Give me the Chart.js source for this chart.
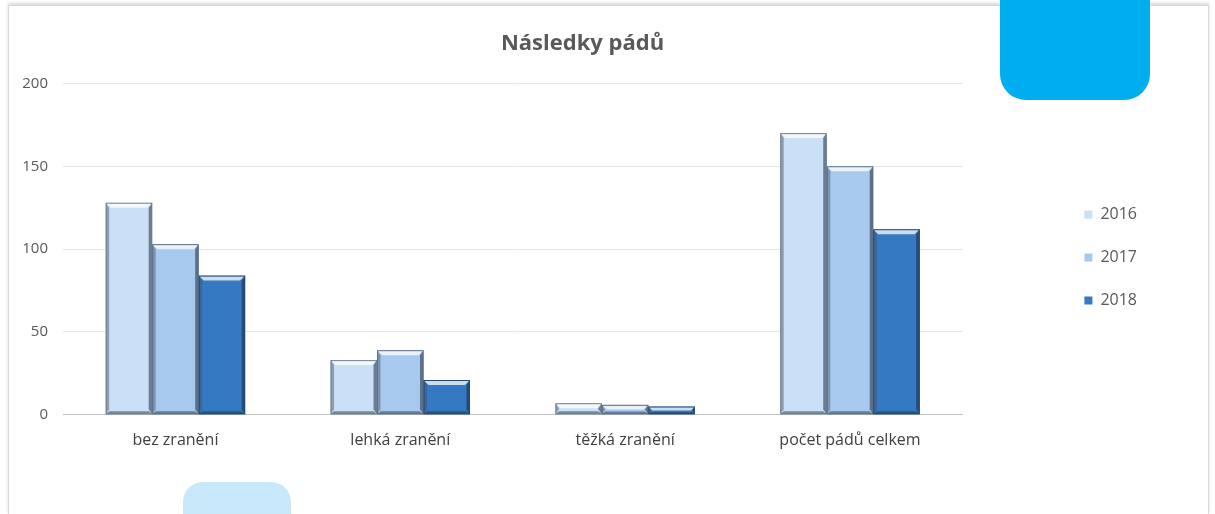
<!DOCTYPE html>
<html>
<head>
<meta charset="utf-8">
<script src="https://cdn.jsdelivr.net/npm/chart.js@4.4.1/dist/chart.umd.min.js"></script>
<style>
  html, body { margin: 0; padding: 0; background: #fff; }
  body { width: 1215px; height: 514px; position: relative; overflow: hidden; }
  #frame {
    position: absolute; left: 8px; top: 5px; width: 1199px; height: 508px;
    border: 1px solid #d9d9d9; box-shadow: 0 -2px 3px rgba(0,0,0,0.15);
  }
  #wrap { position: absolute; left: 9px; top: 6px; width: 1198px; height: 507px; }
  .deco-top {
    position: absolute; left: 1000px; top: 0; width: 150px; height: 100px;
    background: #00aeef; border-radius: 0 0 26px 26px;
  }
  .deco-bottom {
    position: absolute; left: 183px; top: 482px; width: 108px; height: 40px;
    background: #c7e9fa; border-radius: 20px 20px 0 0;
  }
</style>
</head>
<body>
<div id="frame"></div>
<div id="wrap"><canvas id="chart"></canvas></div>
<div class="deco-top"></div>
<div class="deco-bottom"></div>
<script>
// Chart data
const categories = ['bez zranění', 'lehká zranění', 'těžká zranění', 'počet pádů celkem'];
const years = ['2016', '2017', '2018'];
const values2016 = [128, 33, 7, 170];
const values2017 = [103, 39, 6, 150];
const values2018 = [84, 21, 5, 112];
const yTicks = [0, 50, 100, 150, 200];

const fillColors = ['#c9e0f6', '#a7c9ee', '#3479c2'];
const edgeColors = ['#6f7f91', '#5d6f84', '#23476f'];

const fontFamily = '"Open Sans", Lato, sans-serif';

// Draws bevel edges on each bar to imitate the Excel 3D look
const bevelPlugin = {
  id: 'bevel',
  afterDatasetsDraw(chart) {
    const ctx = chart.ctx;
    chart.data.datasets.forEach((ds, i) => {
      const meta = chart.getDatasetMeta(i);
      meta.data.forEach(bar => {
        const left = bar.x - bar.width / 2;
        const right = bar.x + bar.width / 2;
        const top = bar.y;
        const bottom = bar.base;
        const h = bottom - top;
        const b = Math.min(5, h / 2);
        ctx.save();
        // top highlight
        ctx.fillStyle = 'rgba(255,255,255,0.75)';
        ctx.beginPath();
        ctx.moveTo(left, top); ctx.lineTo(right, top);
        ctx.lineTo(right - b, top + b); ctx.lineTo(left + b, top + b);
        ctx.closePath(); ctx.fill();
        // left edge
        ctx.fillStyle = 'rgba(70,80,100,0.45)';
        ctx.beginPath();
        ctx.moveTo(left, top); ctx.lineTo(left + b * 0.7, top + b);
        ctx.lineTo(left + b * 0.7, bottom - b); ctx.lineTo(left, bottom);
        ctx.closePath(); ctx.fill();
        // right edge
        ctx.fillStyle = 'rgba(30,40,60,0.55)';
        ctx.beginPath();
        ctx.moveTo(right, top); ctx.lineTo(right - b * 0.7, top + b);
        ctx.lineTo(right - b * 0.7, bottom - b); ctx.lineTo(right, bottom);
        ctx.closePath(); ctx.fill();
        // bottom edge
        ctx.fillStyle = 'rgba(40,50,70,0.5)';
        ctx.beginPath();
        ctx.moveTo(left, bottom); ctx.lineTo(left + b * 0.7, bottom - b * 0.6);
        ctx.lineTo(right - b * 0.7, bottom - b * 0.6); ctx.lineTo(right, bottom);
        ctx.closePath(); ctx.fill();
        // outline
        ctx.strokeStyle = edgeColors[i];
        ctx.lineWidth = 1;
        ctx.strokeRect(left + 0.5, top + 0.5, right - left - 1, h - 1);
        ctx.restore();
      });
    });
  }
};

const seriesValues = [values2016, values2017, values2018];

new Chart(document.getElementById('chart'), {
  type: 'bar',
  data: {
    labels: categories,
    datasets: years.map((year, i) => ({
      label: year,
      data: seriesValues[i],
      backgroundColor: fillColors[i],
      borderColor: edgeColors[i],
      borderWidth: 0,
      categoryPercentage: 0.62,
      barPercentage: 1.0
    }))
  },
  options: {
    responsive: true,
    maintainAspectRatio: false,
    animation: false,
    layout: { padding: { left: 9, right: 60, top: 0, bottom: 55 } },
    plugins: {
      title: {
        display: true,
        text: 'Následky pádů',
        color: '#595959',
        font: { family: fontFamily, size: 22, weight: 'bold' },
        padding: { top: 25, bottom: 26 }
      },
      legend: {
        position: 'right',
        title: { display: true, text: ' ', font: { size: 13, lineHeight: 1 }, padding: 19 },
        labels: {
          color: '#595959',
          font: { family: fontFamily, size: 16 },
          boxWidth: 8,
          boxHeight: 8,
          padding: 27
        }
      },
      tooltip: { enabled: false }
    },
    scales: {
      x: {
        grid: { display: false },
        border: { color: '#bfbfbf' },
        ticks: {
          color: '#404040',
          font: { family: fontFamily, size: 16 },
          padding: 8
        }
      },
      y: {
        min: 0,
        max: 200,
        afterBuildTicks: scale => { scale.ticks = yTicks.map(v => ({ value: v })); },
        afterFit: scale => { scale.width = 45; },
        grid: { color: '#e6e6e6', drawTicks: false },
        border: { display: false },
        ticks: {
          color: '#595959',
          font: { family: fontFamily, size: 15 },
          padding: 15
        }
      },
      gap: {
        position: 'right',
        display: true,
        grid: { display: false },
        border: { display: false },
        ticks: { display: false },
        afterFit: scale => { scale.width = 95; }
      }
    }
  },
  plugins: [bevelPlugin]
});
</script>
</body>
</html>
